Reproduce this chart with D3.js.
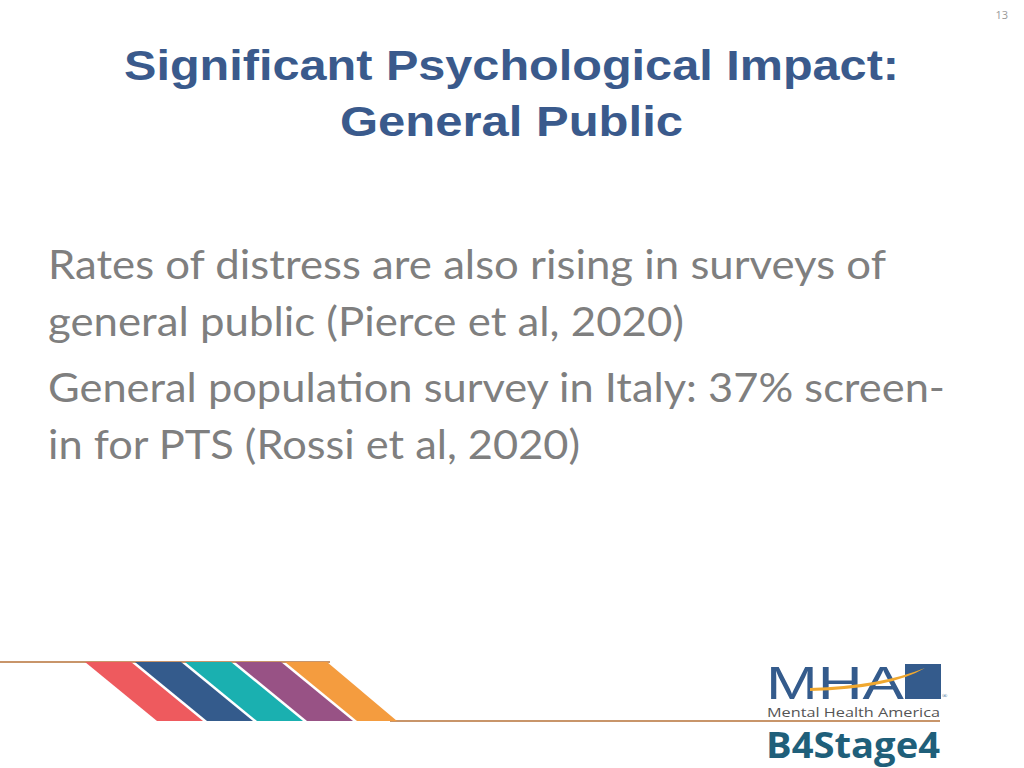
<!DOCTYPE html>
<html><head><meta charset="utf-8">
<script src="https://cdn.jsdelivr.net/npm/d3@7"></script>
<style>body{margin:0;background:#fff}</style>
</head><body>
<script>
const pageNumber = "13";
const titleLines = ["Significant Psychological Impact:", "General Public"];
const bodyLines = [
  "Rates of distress are also rising in surveys of",
  "general public (Pierce et al, 2020)",
  "General population survey in Italy: 37% screen-",
  "in for PTS (Rossi et al, 2020)"
];
const bodyWidths = [838, 636, 897, 532];
const stripeColors = ["#ee5a5e", "#345b8c", "#1ab0b0", "#985285", "#f49c3f"];

const svg = d3.select("body").append("svg").attr("width", 1024).attr("height", 768);

svg.append("text").attr("x", 1008).attr("y", 19).attr("text-anchor", "end")
  .attr("font-family", "Open Sans").attr("font-size", 11).attr("fill", "#999").text(pageNumber);

svg.selectAll(".title").data(titleLines).enter().append("text")
  .attr("x", (d, i) => i ? 340 : 124).attr("y", (d, i) => 80 + i * 56)
  .attr("font-family", "Liberation Sans").attr("font-weight", "bold").attr("font-size", 42)
  .attr("fill", "#3a5a8c").attr("textLength", (d, i) => i ? 343 : 775)
  .attr("lengthAdjust", "spacingAndGlyphs")
  .text(d => d);

svg.selectAll(".body").data(bodyLines).enter().append("text")
  .attr("x", 48).attr("y", (d, i) => [279, 336, 402, 459][i])
  .attr("font-family", "Lato").attr("font-size", 41).attr("fill", "#7f7f7f")
  .attr("textLength", (d, i) => bodyWidths[i]).attr("lengthAdjust", "spacingAndGlyphs")
  .text(d => d);

// bottom decoration
const stripeX = d3.scaleBand().domain(d3.range(stripeColors.length)).range([85, 335]);
const yTop = 662, yBottom = 721, shift = 72;
svg.append("line").attr("x1", 0).attr("x2", 330).attr("y1", yTop).attr("y2", yTop)
  .attr("stroke", "#c8956a").attr("stroke-width", 2);
svg.append("line").attr("x1", 390).attr("x2", 940).attr("y1", yBottom).attr("y2", yBottom)
  .attr("stroke", "#c8956a").attr("stroke-width", 2);
svg.selectAll(".stripe").data(stripeColors).enter().append("path")
  .attr("fill", d => d)
  .attr("d", (d, i) => {
    const x0 = stripeX(i), w = stripeX.bandwidth() - (i < 4 ? 4 : 0) + (i === 4 ? -8 : 0);
    const x1 = i === 4 ? 327 : x0 + w;
    const bw = i === 4 ? 397 - (x0 + shift) : w;
    return d3.line()([[x0, yTop], [x1, yTop], [x0 + shift + bw, yBottom], [x0 + shift, yBottom]]);
  });

// logo
const logo = svg.append("g");
logo.append("text").attr("x", 766).attr("y", 699).attr("font-family", "Liberation Sans")
  .attr("font-size", 46).attr("fill", "#345b8c").attr("textLength", 138)
  .attr("lengthAdjust", "spacingAndGlyphs").text("MHA");
logo.append("rect").attr("x", 905).attr("y", 664).attr("width", 36).attr("height", 35).attr("fill", "#345b8c");
logo.append("path").attr("d", "M810,688 Q880,686 925,668 Q890,689 810,691Z").attr("fill", "#f0a830");
logo.append("text").attr("x", 942).attr("y", 698).attr("font-size", 7).attr("fill", "#345b8c").text("®");
logo.append("text").attr("x", 767).attr("y", 717).attr("font-family", "Open Sans")
  .attr("font-size", 13).attr("fill", "#555").attr("textLength", 173)
  .attr("lengthAdjust", "spacingAndGlyphs").text("Mental Health America");
logo.append("text").attr("x", 766).attr("y", 758).attr("font-family", "Open Sans")
  .attr("font-weight", "bold").attr("font-size", 36).attr("fill", "#1f5f7a")
  .attr("textLength", 174).attr("lengthAdjust", "spacingAndGlyphs").text("B4Stage4");
</script>
</body></html>
